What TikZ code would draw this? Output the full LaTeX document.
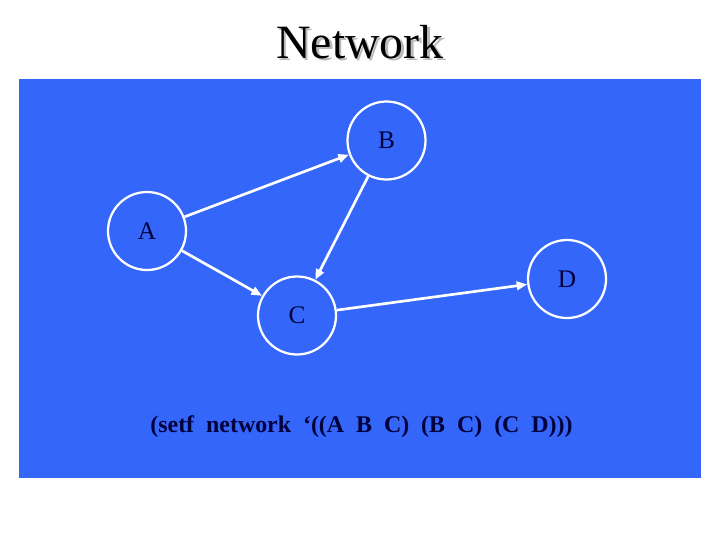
\documentclass[tikz,border=0pt]{standalone}
\usepackage{fontspec}
\setmainfont{Liberation Serif}
\usetikzlibrary{arrows.meta}
\definecolor{slideblue}{RGB}{52,102,250}
\definecolor{inkblue}{RGB}{0,0,60}
\tikzset{
  vertex/.style={circle, draw=white, line width=1.6pt, minimum size=78*0.025cm, inner sep=0pt, text=inkblue, font=\fontsize{18}{20}\selectfont},
  link/.style={draw=white, line width=1.9pt, -{Triangle[length=7.5pt,width=6pt]}}
}
\begin{document}
\begin{tikzpicture}[x=0.025cm, y=-0.025cm]
    \useasboundingbox (0,0) rectangle (720,540);
    \fill[slideblue] (19,79) rectangle (701,478);

    % title with its grey shadow
    \node[text=gray!55, font=\fontsize{34}{38}\selectfont] at (362.5,44.5) {Network};
    \node (title) [text=black, font=\fontsize{34}{38}\selectfont] at (360,42) {Network};

    \node[vertex] (A) at (147,231) {\raisebox{-2pt}{A}};
    \node[vertex] (B) at (386.5,140.5) {B};
    \node[vertex] (C) at (297,315.5) {\raisebox{-1pt}{C}};
    \node[vertex] (D) at (567,279) {\raisebox{-2pt}{D}};

    \draw[link] (A) -- (B);
    \draw[link] (A) -- (C);
    \draw[link] (B) -- (C);
    \draw[link] (C) -- (D);

    \node (setf) [text=inkblue, font=\bfseries\fontsize{17}{20}\selectfont] at (361.5,427)
        {(setf\ \ network\ \ ‘((A\ \ B\ \ C)\ \ (B\ \ C)\ \ (C\ \ D)))};
\end{tikzpicture}
\end{document}
